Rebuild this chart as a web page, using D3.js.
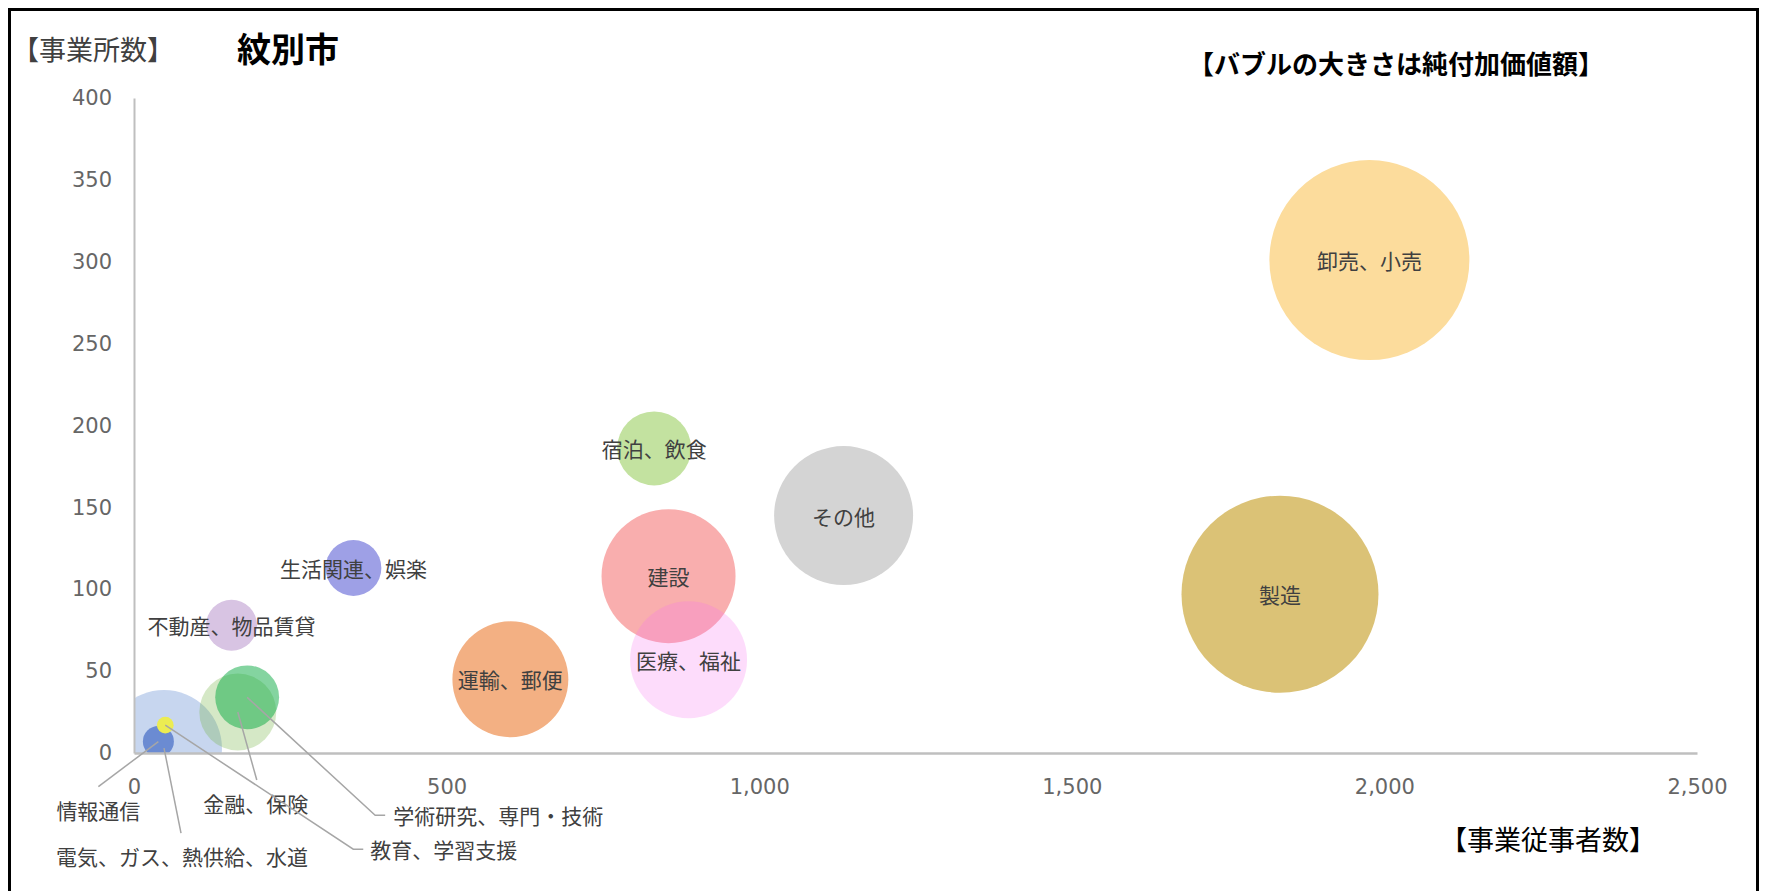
<!DOCTYPE html>
<html>
<head>
<meta charset="utf-8">
<script src="https://cdn.jsdelivr.net/npm/d3@7"></script>
<style>
  html, body { margin: 0; padding: 0; background: #fff; }
  svg { display: block; }
</style>
</head>
<body>
<div id="chart"></div>
<script>
// ---------------- data ----------------
const categories = [
  "卸売、小売", "製造", "その他", "宿泊、飲食", "建設", "医療、福祉",
  "運輸、郵便", "生活関連、娯楽", "不動産、物品賃貸", "金融、保険",
  "学術研究、専門・技術", "電気、ガス、熱供給、水道", "情報通信", "教育、学習支援"
];
// 事業従事者数 (x)
const employees = [1976, 1833, 1135, 832, 855, 887, 602, 351, 156, 166, 181, 48, 39, 50];
// 事業所数 (y)
const establishments = [301, 97, 145, 186, 108, 57, 45, 113, 78, 25, 34, 3, 7, 17];
// 純付加価値額 (bubble size)
const valueAdded = [10000, 9700, 4830, 1370, 4490, 3420, 3360, 780, 650, 1480, 1020, 3360, 240, 70];

// fill colours and opacities (style)
const colors = ["#fcdc9c", "#dbc276", "#d4d4d4", "#c3e2a0", "#f9aeae", "#f773ef",
  "#f3b083", "#9ea0e6", "#d8c4e3", "#73b241", "#09a941", "#c7d6ef", "#6b8bd2", "#ecec52"];
const opacities = [1, 1, 1, 1, 1, 0.25, 1, 1, 1, 0.3, 0.5, 1, 1, 1];

const xTicks = [0, 500, 1000, 1500, 2000, 2500];
const yTicks = [0, 50, 100, 150, 200, 250, 300, 350, 400];

// callout labels (pixel offsets of label from bubble centre) – layout only
const callouts = {
  "情報通信":               { dx: -60, dy: 68, anchor: "middle", lineTo: [-60, 45] },
  "電気、ガス、熱供給、水道": { dx: 18,  dy: 108, anchor: "middle", lineTo: [17, 85] },
  "金融、保険":             { dx: 18,  dy: 91, anchor: "middle", lineTo: [19, 68] },
  "学術研究、専門・技術":     { dx: 146, dy: 118, anchor: "start", lineTo: [128, 118], stub: 10 },
  "教育、学習支援":          { dx: 205, dy: 124, anchor: "start", lineTo: [188, 124], stub: 10 }
};

// ---------------- chart ----------------
const W = 1767, H = 891;
const svg = d3.select("#chart").append("svg").attr("width", W).attr("height", H);
svg.append("rect").attr("width", W).attr("height", H).attr("fill", "#fff");

const x = d3.scaleLinear().domain([0, 2500]).range([134, 1697]);
const y = d3.scaleLinear().domain([0, 400]).range([753, 98]);
const r = d3.scaleSqrt().domain([0, d3.max(valueAdded)]).range([0, 100]);

const data = categories.map((c, i) => ({
  name: c, x: employees[i], y: establishments[i], v: valueAdded[i],
  color: colors[i], op: opacities[i]
}));

svg.append("defs").append("clipPath").attr("id", "plotclip")
  .append("rect").attr("x", x(0)).attr("y", 0)
  .attr("width", x(2500) - x(0)).attr("height", y(0));

// bubbles: larger drawn first
const bub = svg.append("g").attr("clip-path", "url(#plotclip)");
bub.selectAll("circle").data(data.slice().sort((a, b) => b.v - a.v)).enter().append("circle")
  .attr("cx", d => x(d.x)).attr("cy", d => y(d.y)).attr("r", d => r(d.v))
  .attr("fill", d => d.color).attr("fill-opacity", d => d.op);

// axes
const fontNum = "'DejaVu Sans', Verdana, sans-serif";
const fontJP = "'Noto Sans CJK JP', 'Noto Sans', sans-serif";

const yAxis = d3.axisLeft(y).tickValues(yTicks).tickSize(0).tickPadding(22)
  .tickFormat(d3.format(","));
const gy = svg.append("g").attr("transform", `translate(${x(0)},0)`).call(yAxis);
gy.select(".domain").attr("stroke", "#bfbfbf").attr("stroke-width", 2);
gy.selectAll("text").attr("fill", "#666").style("font-family", fontNum).style("font-size", "21px");

const xAxis = d3.axisBottom(x).tickValues(xTicks).tickSize(0).tickPadding(26)
  .tickFormat(d3.format(","));
const gx = svg.append("g").attr("transform", `translate(0,${y(0)})`).call(xAxis);
gx.select(".domain").attr("stroke", "#bfbfbf").attr("stroke-width", 2.5);
gx.selectAll("text").attr("fill", "#666").style("font-family", fontNum).style("font-size", "21px");

// in-bubble labels
const labels = svg.append("g");
data.filter(d => !callouts[d.name]).forEach(d => {
  labels.append("text")
    .attr("x", x(d.x)).attr("y", y(d.y))
    .attr("text-anchor", "middle").attr("dominant-baseline", "central")
    .attr("fill", "#404040")
    .style("font-family", fontJP).style("font-size", "21px")
    .text(d.name);
});

// callout labels with leader lines
data.filter(d => callouts[d.name]).forEach(d => {
  const c = callouts[d.name];
  const cx = x(d.x), cy = y(d.y);
  const pts = [[cx, cy], [cx + c.lineTo[0], cy + c.lineTo[1]]];
  if (c.stub) pts.push([cx + c.lineTo[0] + c.stub, cy + c.lineTo[1]]);
  labels.append("path")
    .attr("d", d3.line()(pts))
    .attr("fill", "none").attr("stroke", "#a6a6a6").attr("stroke-width", 1.5);
  labels.append("text")
    .attr("x", cx + c.dx).attr("y", cy + c.dy)
    .attr("text-anchor", c.anchor).attr("dominant-baseline", "central")
    .attr("fill", "#404040")
    .style("font-family", fontJP).style("font-size", "21px")
    .text(d.name);
});

// titles
svg.append("text").attr("x", 12).attr("y", 48).attr("dominant-baseline", "central")
  .attr("fill", "#404040").style("font-family", fontJP).style("font-size", "27px")
  .text("【事業所数】");
svg.append("text").attr("x", 237).attr("y", 47).attr("dominant-baseline", "central")
  .attr("fill", "#000").style("font-family", fontJP).style("font-size", "34px").style("font-weight", "bold")
  .text("紋別市");
svg.append("text").attr("x", 1188).attr("y", 62).attr("dominant-baseline", "central")
  .attr("fill", "#000").style("font-family", fontJP).style("font-size", "26px").style("font-weight", "bold")
  .text("【バブルの大きさは純付加価値額】");
svg.append("text").attr("x", 1440).attr("y", 838).attr("dominant-baseline", "central")
  .attr("fill", "#000").style("font-family", fontJP).style("font-size", "27px")
  .text("【事業従事者数】");

// outer frame
svg.append("rect").attr("x", 9.5).attr("y", 9.5).attr("width", 1748).attr("height", 900)
  .attr("fill", "none").attr("stroke", "#000").attr("stroke-width", 3);
</script>
</body>
</html>
